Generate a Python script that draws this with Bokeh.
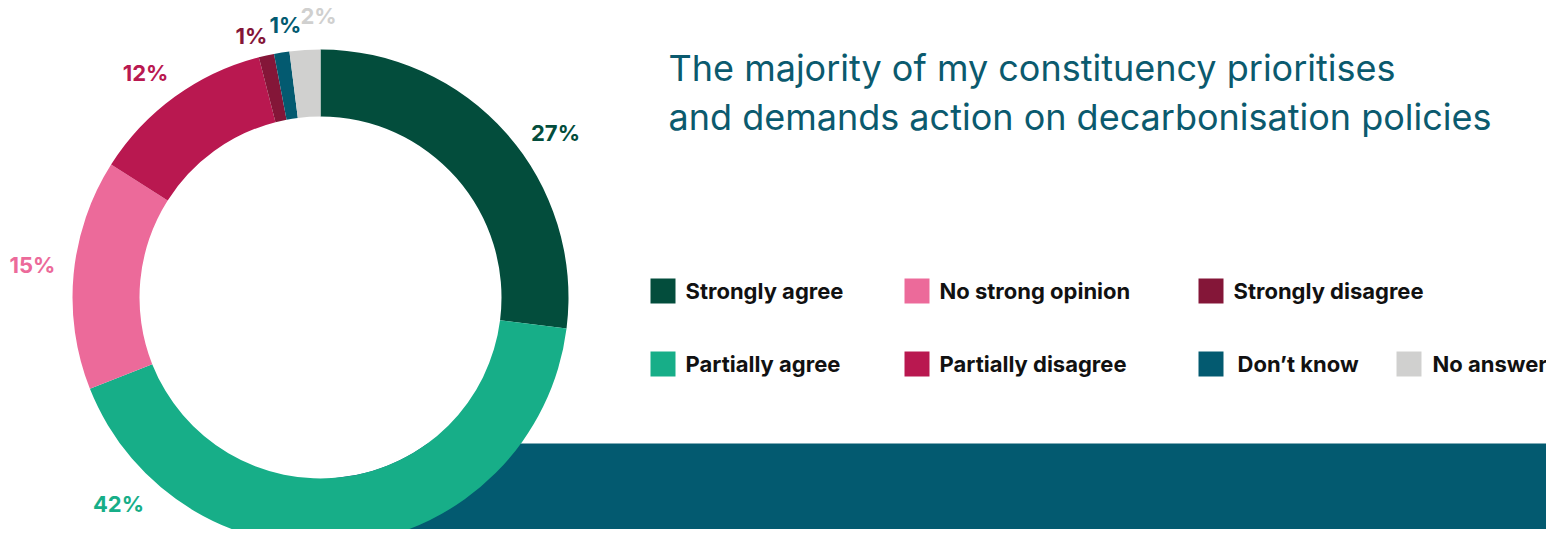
import math
from bokeh.plotting import figure
from bokeh.models import Range1d, ColumnDataSource
from bokeh.core.properties import value
from bokeh.embed import file_html
from bokeh.resources import INLINE

# ---- data ----
categories = ["Strongly agree", "Partially agree", "No strong opinion",
              "Partially disagree", "Strongly disagree", "Don\u2019t know", "No answer"]
shares = [27, 42, 15, 12, 1, 1, 2]
pct_labels = ["27%", "42%", "15%", "12%", "1%", "1%", "2%"]
colors = ["#034d3c", "#17ae88", "#ec6a9a", "#b91850", "#841638", "#035a70", "#d0d0cf"]
title_lines = ["The majority of my constituency prioritises",
               "and demands action on decarbonisation policies"]

# ---- layout (image pixel coordinates; data y measured from the bottom of the image) ----
H = 545
W_FIG, H_FIG = 1546, 529
cx, cy = 320, H - 297
r_out, r_in = 248, 181

# label positions (manual placement, image coordinates)
label_xy = [(555, 132), (118, 503), (32, 264), (145, 72), (251, 35), (285, 24), (318, 15)]
# legend positions (square left edge, square top, text x)
legend_xy = [(650, 278, 685), (650, 351, 685), (904, 278, 939), (904, 351, 939),
             (1198, 278, 1233), (1198, 351, 1237), (1396, 351, 1432)]

p = figure(width=W_FIG, height=H_FIG, output_backend="svg", toolbar_location=None,
           x_range=Range1d(0, W_FIG), y_range=Range1d(H - H_FIG, H),
           min_border=0, outline_line_color=None, background_fill_color="white",
           border_fill_color="white")
p.axis.visible = False
p.grid.visible = False

# teal band (passes behind the donut)
p.quad(left=[330], right=[1600], bottom=[-20], top=[H - 443],
       fill_color="#035a70", line_color=None)
# white hole of the donut
p.circle(x=[cx], y=[cy], radius=r_in, fill_color="white", line_color=None)

# donut
total = sum(shares)
starts, ends = [], []
cum = 0
for s in shares:
    starts.append(math.pi / 2 - 2 * math.pi * cum / total)
    cum += s
    ends.append(math.pi / 2 - 2 * math.pi * cum / total)
src = ColumnDataSource(dict(start=starts, end=ends, color=colors, cat=categories))
p.annular_wedge(x=cx, y=cy, inner_radius=r_in, outer_radius=r_out,
                start_angle="start", end_angle="end", direction="clock",
                fill_color="color", line_color=None, source=src)

# percentage labels
lsrc = ColumnDataSource(dict(x=[a for a, b in label_xy], y=[H - b for a, b in label_xy],
                             t=pct_labels, c=colors))
p.text(x="x", y="y", text="t", text_color="c", source=lsrc,
       text_font=value("Inter"), text_font_style="bold", text_font_size="22px",
       text_align="center", text_baseline="middle")

# title
p.text(x=[668, 668], y=[H - 67, H - 116], text=title_lines, text_color="#0b5a6e",
       text_font=value("Inter"), text_font_size="36px",
       text_align="left", text_baseline="middle")

# legend
sq = 25
leg = ColumnDataSource(dict(
    l=[a for a, b, t in legend_xy], r=[a + sq for a, b, t in legend_xy],
    top=[H - b for a, b, t in legend_xy], bot=[H - b - sq for a, b, t in legend_xy],
    tx=[t for a, b, t in legend_xy], ty=[H - b - sq / 2 for a, b, t in legend_xy],
    c=colors, cat=categories))
p.quad(left="l", right="r", top="top", bottom="bot", fill_color="c", line_color=None, source=leg)
p.text(x="tx", y="ty", text="cat", source=leg, text_color="#111111",
       text_font=value("Inter"), text_font_style="bold", text_font_size="22px",
       text_align="left", text_baseline="middle")

open("out.html", "w").write(file_html(p, INLINE))
